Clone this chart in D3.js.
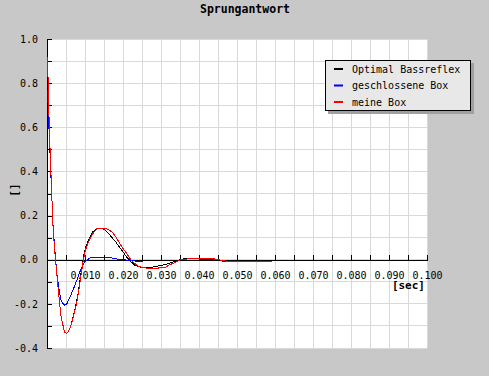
<!DOCTYPE html>
<html lang="de">
<head>
    <meta charset="UTF-8">
    <title>Sprungantwort</title>
    <script src="https://d3js.org/d3.v7.min.js"></script>
    <style>
        body { margin: 0; background: #c8c8c8; }
        text { font-family: "DejaVu Sans Mono", monospace; font-size: 10px; fill: #000; }
    </style>
</head>
<body>
<script>
    const width  = 489;
    const height = 376;

    // time in seconds (shared by all series)
    const time = [
        0, 0.0005, 0.001, 0.0015, 0.002, 0.0025, 0.003, 0.0035, 0.004, 0.0045,
        0.005, 0.0055, 0.006, 0.0065, 0.007, 0.0075, 0.008, 0.0085, 0.009, 0.0095,
        0.010, 0.011, 0.012, 0.013, 0.014, 0.015, 0.016, 0.017, 0.018, 0.019,
        0.020, 0.021, 0.022, 0.023, 0.024, 0.025, 0.026, 0.027, 0.028, 0.029,
        0.030, 0.031, 0.032, 0.033, 0.034, 0.035, 0.036, 0.037, 0.038, 0.039,
        0.040, 0.041, 0.042, 0.043, 0.044, 0.045, 0.046, 0.047, 0.048, 0.049,
        0.050, 0.051, 0.052, 0.053, 0.054, 0.055, 0.056, 0.057, 0.058, 0.059
    ];

    const optimalBassreflex = [
        0.92, 0.58, 0.35, 0.13, 0.02, -0.075, -0.165, -0.25, -0.292, -0.328,
        -0.334, -0.325, -0.306, -0.277, -0.24, -0.203, -0.157, -0.1, -0.04, 0.015,
        0.055, 0.098, 0.128, 0.141, 0.142, 0.137, 0.12, 0.10, 0.08, 0.055,
        0.032, 0.009, -0.01, -0.025, -0.032, -0.035, -0.036, -0.035, -0.032, -0.029,
        -0.026, -0.022, -0.016, -0.01, -0.005, 0.0, 0.004, 0.006, 0.005, 0.004,
        0.003, 0.003, 0.002, 0.001, 0.001, 0.0, -0.006, -0.006, -0.006, -0.005,
        -0.004, -0.004, -0.004, -0.004, -0.004, -0.004, -0.004, -0.004, -0.004, -0.004
    ];

    const geschlosseneBox = [
        0.77, 0.55, 0.34, 0.14, 0.03, -0.07, -0.13, -0.18, -0.197, -0.206,
        -0.203, -0.185, -0.166, -0.145, -0.125, -0.103, -0.08, -0.056, -0.036, -0.017,
        -0.006, 0.006, 0.012, 0.012, 0.011, 0.01, 0.01, 0.008, 0.004, 0.002,
        0.0, -0.002, -0.004, -0.006, -0.006, -0.006
    ];

    const meineBox = [
        0.92, 0.58, 0.35, 0.13, 0.02, -0.075, -0.165, -0.25, -0.292, -0.328,
        -0.334, -0.325, -0.308, -0.28, -0.245, -0.21, -0.165, -0.109, -0.05, 0.005,
        0.045, 0.09, 0.12, 0.14, 0.142, 0.142, 0.138, 0.125, 0.103, 0.074,
        0.047, 0.025, -0.003, -0.018, -0.03, -0.035, -0.038, -0.039, -0.039, -0.038,
        -0.036, -0.034, -0.024, -0.017, -0.008, -0.001, 0.002, 0.004, 0.007, 0.007,
        0.007, 0.007, 0.007, 0.007, 0.003, 0.0, -0.004, -0.007, -0.007, -0.007,
        -0.007, -0.007, -0.007, -0.007, -0.007, -0.007, -0.007, -0.007, -0.007, -0.007
    ];

    const seriesNames  = ["Optimal Bassreflex", "geschlossene Box", "meine Box"];
    const seriesColors = ["#000000", "#0000ff", "#ff0000"];
    const seriesValues = [optimalBassreflex, geschlosseneBox, meineBox];

    const xTickValues = [0.010, 0.020, 0.030, 0.040, 0.050, 0.060, 0.070, 0.080, 0.090, 0.100];
    const xTickLabels = ["0.010", "0.020", "0.030", "0.040", "0.050", "0.060", "0.070", "0.080", "0.090", "0.100"];
    const yTickValues = [-0.4, -0.2, 0.0, 0.2, 0.4, 0.6, 0.8, 1.0];
    const yTickLabels = ["-0.4", "-0.2", "0.0", "0.2", "0.4", "0.6", "0.8", "1.0"];

    const plot = {left: 47, right: 427, top: 39, bottom: 348};

    const scaleX = d3.scaleLinear().domain([0, 0.1]).range([plot.left, plot.right]);
    const scaleY = d3.scaleLinear().domain([-0.4, 1.0]).range([plot.bottom, plot.top]);

    const svg = d3.select("body").append("svg")
                  .attr("width", width).attr("height", height)
                  .style("display", "block");

    svg.append("rect").attr("width", width).attr("height", height).attr("fill", "#c8c8c8");

    // title
    svg.append("text")
       .attr("x", 245).attr("y", 13)
       .attr("text-anchor", "middle")
       .style("font-weight", "bold").style("font-size", "11.5px")
       .text("Sprungantwort");

    // plot background
    svg.append("rect")
       .attr("x", plot.left).attr("y", plot.top)
       .attr("width", plot.right - plot.left).attr("height", plot.bottom - plot.top)
       .attr("fill", "#ffffff");

    // grid
    const gridX = d3.range(1, 21).map(i => i * 0.005);
    const gridY = d3.range(-4, 11).map(i => i / 10);
    const grid = svg.append("g").attr("stroke", "#d9d9d9").attr("shape-rendering", "crispEdges");
    grid.selectAll(".gx").data(gridX).join("line")
        .attr("x1", d => scaleX(d)).attr("x2", d => scaleX(d))
        .attr("y1", plot.top).attr("y2", plot.bottom);
    grid.selectAll(".gy").data(gridY).join("line")
        .attr("x1", plot.left).attr("x2", plot.right)
        .attr("y1", d => scaleY(d)).attr("y2", d => scaleY(d));

    // x axis along y = 0, ticks every 0.005 pointing up
    const xAxis = d3.axisBottom(scaleX)
                    .tickValues(gridX)
                    .tickSizeInner(-5).tickSizeOuter(0).tickPadding(12)
                    .tickFormat(d => {
                        const i = xTickValues.findIndex(v => Math.abs(v - d) < 1e-9);
                        return i >= 0 ? xTickLabels[i] : "";
                    });
    const gx = svg.append("g")
                  .attr("transform", `translate(0,${Math.floor(scaleY(0)) + 0.5})`)
                  .call(xAxis);

    // y axis, ticks every 0.1 pointing in
    const yAxis = d3.axisLeft(scaleY)
                    .tickValues(gridY)
                    .tickSizeInner(-5).tickSizeOuter(0).tickPadding(9)
                    .tickFormat(d => {
                        const i = yTickValues.findIndex(v => Math.abs(v - d) < 1e-9);
                        return i >= 0 ? yTickLabels[i] : "";
                    });
    const gy = svg.append("g")
                  .attr("transform", `translate(${plot.left},0)`)
                  .call(yAxis);

    [gx, gy].forEach(g => {
        g.attr("font-family", null).attr("font-size", null);
        g.selectAll("line, path").attr("stroke", "#000").attr("shape-rendering", "crispEdges");
        g.selectAll("text").attr("fill", "#000");
    });

    // axis titles
    svg.append("text")
       .attr("x", 425).attr("y", 289)
       .attr("text-anchor", "end")
       .style("font-weight", "bold").style("font-size", "11px")
       .text("[sec]");
    svg.append("text")
       .attr("transform", "translate(18,190) rotate(-90)")
       .attr("text-anchor", "middle")
       .style("font-weight", "bold").style("font-size", "11px")
       .text("[]");

    // curves
    const line = d3.line()
                   .x((d, i) => scaleX(time[i]) + 0.5)
                   .y(d => scaleY(d));

    seriesValues.forEach((vals, k) => {
        svg.append("path")
           .attr("d", line(vals))
           .attr("fill", "none")
           .attr("stroke", seriesColors[k])
           .attr("stroke-width", 1)
           .attr("shape-rendering", "optimizeSpeed");
    });

    // legend
    const legend = svg.append("g").attr("transform", "translate(325,60)");
    legend.append("rect")
          .attr("x", 3).attr("y", 3).attr("width", 146).attr("height", 51)
          .attr("fill", "#a0a0a0");
    legend.append("rect")
          .attr("x", 0.5).attr("y", 0.5).attr("width", 145).attr("height", 50)
          .attr("fill", "#e8e8e8").attr("stroke", "#000");

    const rows = legend.selectAll(".row").data(seriesNames).join("g")
                       .attr("transform", (d, i) => `translate(0,${9 + i * 16.5})`);
    rows.append("line")
        .attr("x1", 9).attr("x2", 18).attr("y1", 0).attr("y2", 0)
        .attr("stroke", (d, i) => seriesColors[i]).attr("stroke-width", 2);
    rows.append("text")
        .attr("x", 27).attr("y", 0).attr("dy", "0.35em")
        .text(d => d);
</script>
</body>
</html>
